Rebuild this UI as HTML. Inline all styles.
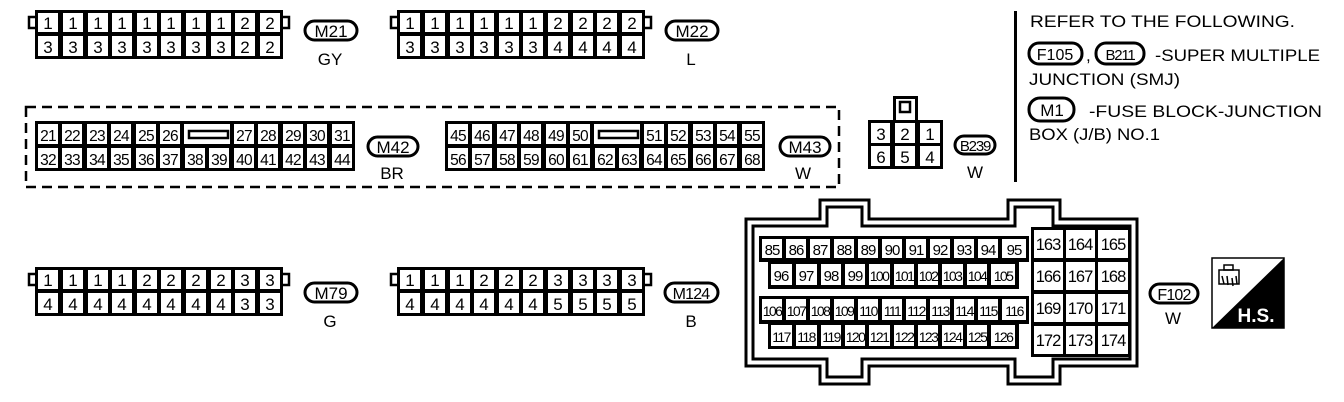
<!DOCTYPE html>
<html><head><meta charset="utf-8"><style>
html,body{margin:0;padding:0;background:#fff;}
svg{display:block;}
text{font-family:"Liberation Sans",sans-serif;fill:#000;}
</style></head><body>
<svg width="1344" height="402" viewBox="0 0 1344 402" xmlns="http://www.w3.org/2000/svg">
<defs>
<g id="c10">
  <rect x="29" y="17" width="8" height="11" fill="#fff" stroke="#000" stroke-width="2.5"/>
  <rect x="281" y="17" width="8" height="11" fill="#fff" stroke="#000" stroke-width="2.5"/>
  <rect x="35" y="10" width="248" height="49" fill="#000"/>
  <g fill="#fff">
  <rect x="38" y="13" width="20" height="19"/><rect x="63" y="13" width="20" height="19"/><rect x="88" y="13" width="20" height="19"/><rect x="112" y="13" width="20" height="19"/><rect x="137" y="13" width="20" height="19"/><rect x="161" y="13" width="20" height="19"/><rect x="186" y="13" width="20" height="19"/><rect x="211" y="13" width="20" height="19"/><rect x="235" y="13" width="20" height="19"/><rect x="260" y="13" width="20" height="19"/>
  <rect x="38" y="36" width="20" height="20"/><rect x="63" y="36" width="20" height="20"/><rect x="88" y="36" width="20" height="20"/><rect x="112" y="36" width="20" height="20"/><rect x="137" y="36" width="20" height="20"/><rect x="161" y="36" width="20" height="20"/><rect x="186" y="36" width="20" height="20"/><rect x="211" y="36" width="20" height="20"/><rect x="235" y="36" width="20" height="20"/><rect x="260" y="36" width="20" height="20"/>
  </g>
</g>
</defs>

<!-- M21 -->
<use href="#c10"/>
<g font-size="17" text-anchor="middle">
<text x="48" y="29">1</text><text x="73" y="29">1</text><text x="98" y="29">1</text><text x="122" y="29">1</text><text x="147" y="29">1</text><text x="171" y="29">1</text><text x="196" y="29">1</text><text x="221" y="29">1</text><text x="245" y="29">2</text><text x="270" y="29">2</text>
<text x="48" y="53">3</text><text x="73" y="53">3</text><text x="98" y="53">3</text><text x="122" y="53">3</text><text x="147" y="53">3</text><text x="171" y="53">3</text><text x="196" y="53">3</text><text x="221" y="53">3</text><text x="245" y="53">2</text><text x="270" y="53">2</text>
</g>
<rect x="305" y="21" width="52" height="19" rx="9.5" fill="none" stroke="#000" stroke-width="3"/>
<text x="331" y="37" font-size="17" text-anchor="middle">M21</text>
<text x="330" y="65" font-size="17" text-anchor="middle">GY</text>

<!-- M22 -->
<use href="#c10" x="362"/>
<g font-size="17" text-anchor="middle">
<text x="410" y="29">1</text><text x="435" y="29">1</text><text x="460" y="29">1</text><text x="484" y="29">1</text><text x="509" y="29">1</text><text x="533" y="29">1</text><text x="558" y="29">2</text><text x="583" y="29">2</text><text x="607" y="29">2</text><text x="632" y="29">2</text>
<text x="410" y="53">3</text><text x="435" y="53">3</text><text x="460" y="53">3</text><text x="484" y="53">3</text><text x="509" y="53">3</text><text x="533" y="53">3</text><text x="558" y="53">4</text><text x="583" y="53">4</text><text x="607" y="53">4</text><text x="632" y="53">4</text>
</g>
<rect x="666" y="21" width="52" height="19" rx="9.5" fill="none" stroke="#000" stroke-width="3"/>
<text x="692" y="37" font-size="17" text-anchor="middle">M22</text>
<text x="691" y="65" font-size="17" text-anchor="middle">L</text>

<!-- dashed box -->
<rect x="26" y="107" width="813" height="80" fill="none" stroke="#000" stroke-width="2.5" stroke-dasharray="10,6"/>

<!-- M42 -->
<rect x="35" y="121" width="320" height="50" fill="#000"/>
<g fill="#fff">
<rect x="38" y="124" width="20" height="20"/><rect x="62" y="124" width="20" height="20"/><rect x="87" y="124" width="20" height="20"/><rect x="111" y="124" width="20" height="20"/><rect x="136" y="124" width="20" height="20"/><rect x="160" y="124" width="20" height="20"/>
<rect x="184" y="124" width="46" height="20"/>
<rect x="234" y="124" width="20" height="20"/><rect x="258" y="124" width="20" height="20"/><rect x="283" y="124" width="20" height="20"/><rect x="307" y="124" width="20" height="20"/><rect x="332" y="124" width="20" height="20"/>
<rect x="38" y="148" width="20" height="20"/><rect x="62" y="148" width="20" height="20"/><rect x="87" y="148" width="20" height="20"/><rect x="111" y="148" width="20" height="20"/><rect x="136" y="148" width="20" height="20"/><rect x="160" y="148" width="20" height="20"/><rect x="185" y="148" width="20" height="20"/><rect x="209" y="148" width="20" height="20"/><rect x="234" y="148" width="20" height="20"/><rect x="258" y="148" width="20" height="20"/><rect x="283" y="148" width="20" height="20"/><rect x="307" y="148" width="20" height="20"/><rect x="332" y="148" width="20" height="20"/>
</g>
<rect x="189" y="131" width="39" height="7" fill="none" stroke="#000" stroke-width="2.5"/>
<g font-size="15.5" text-anchor="middle" letter-spacing="-0.8">
<text x="48" y="141">21</text><text x="72" y="141">22</text><text x="97" y="141">23</text><text x="121" y="141">24</text><text x="146" y="141">25</text><text x="170" y="141">26</text><text x="244" y="141">27</text><text x="268" y="141">28</text><text x="293" y="141">29</text><text x="317" y="141">30</text><text x="342" y="141">31</text>
<text x="48" y="165">32</text><text x="72" y="165">33</text><text x="97" y="165">34</text><text x="121" y="165">35</text><text x="146" y="165">36</text><text x="170" y="165">37</text><text x="195" y="165">38</text><text x="219" y="165">39</text><text x="244" y="165">40</text><text x="268" y="165">41</text><text x="293" y="165">42</text><text x="317" y="165">43</text><text x="342" y="165">44</text>
</g>
<rect x="368" y="137" width="50" height="19" rx="9.5" fill="none" stroke="#000" stroke-width="3"/>
<text x="393" y="153" font-size="17" text-anchor="middle">M42</text>
<text x="392" y="179" font-size="17" text-anchor="middle">BR</text>

<!-- M43 -->
<g transform="translate(410,0)">
<rect x="35" y="121" width="320" height="50" fill="#000"/>
<g fill="#fff">
<rect x="38" y="124" width="20" height="20"/><rect x="62" y="124" width="20" height="20"/><rect x="87" y="124" width="20" height="20"/><rect x="111" y="124" width="20" height="20"/><rect x="136" y="124" width="20" height="20"/><rect x="160" y="124" width="20" height="20"/>
<rect x="184" y="124" width="46" height="20"/>
<rect x="234" y="124" width="20" height="20"/><rect x="258" y="124" width="20" height="20"/><rect x="283" y="124" width="20" height="20"/><rect x="307" y="124" width="20" height="20"/><rect x="332" y="124" width="20" height="20"/>
<rect x="38" y="148" width="20" height="20"/><rect x="62" y="148" width="20" height="20"/><rect x="87" y="148" width="20" height="20"/><rect x="111" y="148" width="20" height="20"/><rect x="136" y="148" width="20" height="20"/><rect x="160" y="148" width="20" height="20"/><rect x="185" y="148" width="20" height="20"/><rect x="209" y="148" width="20" height="20"/><rect x="234" y="148" width="20" height="20"/><rect x="258" y="148" width="20" height="20"/><rect x="283" y="148" width="20" height="20"/><rect x="307" y="148" width="20" height="20"/><rect x="332" y="148" width="20" height="20"/>
</g>
<rect x="189" y="131" width="39" height="7" fill="none" stroke="#000" stroke-width="2.5"/>
<g font-size="15.5" text-anchor="middle" letter-spacing="-0.8">
<text x="48" y="141">45</text><text x="72" y="141">46</text><text x="97" y="141">47</text><text x="121" y="141">48</text><text x="146" y="141">49</text><text x="170" y="141">50</text><text x="244" y="141">51</text><text x="268" y="141">52</text><text x="293" y="141">53</text><text x="317" y="141">54</text><text x="342" y="141">55</text>
<text x="48" y="165">56</text><text x="72" y="165">57</text><text x="97" y="165">58</text><text x="121" y="165">59</text><text x="146" y="165">60</text><text x="170" y="165">61</text><text x="195" y="165">62</text><text x="219" y="165">63</text><text x="244" y="165">64</text><text x="268" y="165">65</text><text x="293" y="165">66</text><text x="317" y="165">67</text><text x="342" y="165">68</text>
</g>
</g>
<rect x="780" y="137" width="50" height="19" rx="9.5" fill="none" stroke="#000" stroke-width="3"/>
<text x="805" y="153" font-size="17" text-anchor="middle">M43</text>
<text x="803" y="179" font-size="17" text-anchor="middle">W</text>

<!-- B239 -->
<rect x="893" y="96" width="25" height="27" fill="#000"/>
<rect x="896" y="99" width="19" height="22" fill="#fff"/>
<rect x="900" y="102" width="10" height="10" fill="none" stroke="#000" stroke-width="2.5"/>
<rect x="868" y="120" width="75" height="49" fill="#000"/>
<g fill="#fff">
<rect x="871" y="123" width="19" height="20"/><rect x="895" y="123" width="20" height="20"/><rect x="920" y="123" width="20" height="20"/>
<rect x="871" y="146" width="19" height="20"/><rect x="895" y="146" width="20" height="20"/><rect x="920" y="146" width="20" height="20"/>
</g>
<g font-size="17" text-anchor="middle">
<text x="881" y="140">3</text><text x="905" y="140">2</text><text x="930" y="140">1</text>
<text x="881" y="163">6</text><text x="905" y="163">5</text><text x="930" y="163">4</text>
</g>
<rect x="955" y="136" width="40" height="18" rx="9" fill="none" stroke="#000" stroke-width="3"/>
<text x="975" y="151" font-size="15" text-anchor="middle" letter-spacing="-1.2">B239</text>
<text x="975" y="178" font-size="17" text-anchor="middle">W</text>

<!-- notes -->
<rect x="1014" y="11" width="3" height="171" fill="#000"/>
<g font-size="17">
<text x="1030" y="27" textLength="265" lengthAdjust="spacingAndGlyphs">REFER TO THE FOLLOWING.</text>
<rect x="1029" y="43" width="53" height="21" rx="10" fill="none" stroke="#000" stroke-width="3"/>
<text x="1055" y="60" font-size="16" text-anchor="middle">F105</text>
<text x="1086" y="61">,</text>
<rect x="1096" y="43" width="48" height="21" rx="10" fill="none" stroke="#000" stroke-width="3"/>
<text x="1120" y="60" font-size="15" text-anchor="middle" letter-spacing="-1.2">B211</text>
<text x="1155" y="61" textLength="165" lengthAdjust="spacingAndGlyphs">-SUPER MULTIPLE</text>
<text x="1029" y="85" textLength="151" lengthAdjust="spacingAndGlyphs">JUNCTION (SMJ)</text>
<rect x="1029" y="98" width="45" height="23" rx="11" fill="none" stroke="#000" stroke-width="3"/>
<text x="1052" y="116" text-anchor="middle">M1</text>
<text x="1089" y="117" textLength="233" lengthAdjust="spacingAndGlyphs">-FUSE BLOCK-JUNCTION</text>
<text x="1029" y="140" textLength="131" lengthAdjust="spacingAndGlyphs">BOX (J/B) NO.1</text>
</g>

<!-- M79 -->
<use href="#c10" y="257"/>
<g font-size="17" text-anchor="middle">
<text x="48" y="286">1</text><text x="73" y="286">1</text><text x="98" y="286">1</text><text x="122" y="286">1</text><text x="147" y="286">2</text><text x="171" y="286">2</text><text x="196" y="286">2</text><text x="221" y="286">2</text><text x="245" y="286">3</text><text x="270" y="286">3</text>
<text x="48" y="310">4</text><text x="73" y="310">4</text><text x="98" y="310">4</text><text x="122" y="310">4</text><text x="147" y="310">4</text><text x="171" y="310">4</text><text x="196" y="310">4</text><text x="221" y="310">4</text><text x="245" y="310">3</text><text x="270" y="310">3</text>
</g>
<rect x="305" y="283" width="52" height="19" rx="9.5" fill="none" stroke="#000" stroke-width="3"/>
<text x="331" y="299" font-size="17" text-anchor="middle">M79</text>
<text x="330" y="327" font-size="17" text-anchor="middle">G</text>

<!-- M124 -->
<use href="#c10" x="362" y="257"/>
<g font-size="17" text-anchor="middle">
<text x="410" y="286">1</text><text x="435" y="286">1</text><text x="460" y="286">1</text><text x="484" y="286">2</text><text x="509" y="286">2</text><text x="533" y="286">2</text><text x="558" y="286">3</text><text x="583" y="286">3</text><text x="607" y="286">3</text><text x="632" y="286">3</text>
<text x="410" y="310">4</text><text x="435" y="310">4</text><text x="460" y="310">4</text><text x="484" y="310">4</text><text x="509" y="310">4</text><text x="533" y="310">4</text><text x="558" y="310">5</text><text x="583" y="310">5</text><text x="607" y="310">5</text><text x="632" y="310">5</text>
</g>
<rect x="665" y="283" width="53" height="19" rx="9.5" fill="none" stroke="#000" stroke-width="3"/>
<text x="691" y="299" font-size="16" text-anchor="middle" letter-spacing="-0.8">M124</text>
<text x="691" y="327" font-size="17" text-anchor="middle">B</text>

<!-- F102 big connector -->
<path d="M746,219 H820 V200 H869 V219 H1008 V200 H1060 V219 H1137 V366 H1060 V384 H1008 V366 H869 V384 H820 V366 H746 Z" fill="none" stroke="#000" stroke-width="3"/>
<path d="M753,226 H827 V207 H862 V226 H1015 V207 H1053 V226 H1130 V359 H1053 V377 H1015 V359 H862 V377 H827 V359 H753 Z" fill="none" stroke="#000" stroke-width="3"/>
<g fill="#000">
<rect x="759" y="236" width="270" height="26"/>
<rect x="768" y="258" width="251" height="31"/>
<rect x="759" y="296" width="270" height="28"/>
<rect x="768" y="320" width="251" height="29"/>
<rect x="1031" y="227" width="100" height="130"/>
</g>
<g fill="#fff">
<rect x="762" y="239" width="20" height="19"/><rect x="786" y="239" width="20" height="19"/><rect x="810" y="239" width="20" height="19"/><rect x="834" y="239" width="20" height="19"/><rect x="858" y="239" width="20" height="19"/><rect x="882" y="239" width="20" height="19"/><rect x="906" y="239" width="20" height="19"/><rect x="930" y="239" width="20" height="19"/><rect x="954" y="239" width="20" height="19"/><rect x="978" y="239" width="20" height="19"/><rect x="1002" y="239" width="24" height="19"/>
<rect x="771" y="264" width="21" height="21"/><rect x="796" y="264" width="21" height="21"/><rect x="821" y="264" width="20" height="21"/><rect x="845" y="264" width="20" height="21"/><rect x="869" y="264" width="21" height="21"/><rect x="894" y="264" width="20" height="21"/><rect x="918" y="264" width="20" height="21"/><rect x="942" y="264" width="21" height="21"/><rect x="967" y="264" width="20" height="21"/><rect x="991" y="264" width="24" height="21"/>
<rect x="762" y="299" width="20" height="21"/><rect x="786" y="299" width="20" height="21"/><rect x="810" y="299" width="20" height="21"/><rect x="834" y="299" width="20" height="21"/><rect x="858" y="299" width="20" height="21"/><rect x="882" y="299" width="20" height="21"/><rect x="906" y="299" width="20" height="21"/><rect x="930" y="299" width="20" height="21"/><rect x="954" y="299" width="20" height="21"/><rect x="978" y="299" width="20" height="21"/><rect x="1002" y="299" width="24" height="21"/>
<rect x="771" y="325" width="21" height="21"/><rect x="796" y="325" width="21" height="21"/><rect x="821" y="325" width="20" height="21"/><rect x="845" y="325" width="20" height="21"/><rect x="869" y="325" width="21" height="21"/><rect x="894" y="325" width="20" height="21"/><rect x="918" y="325" width="20" height="21"/><rect x="942" y="325" width="21" height="21"/><rect x="967" y="325" width="20" height="21"/><rect x="991" y="325" width="24" height="21"/>
<rect x="1034" y="230" width="29" height="28"/><rect x="1066" y="230" width="29" height="28"/><rect x="1098" y="230" width="30" height="28"/>
<rect x="1034" y="262" width="29" height="28"/><rect x="1066" y="262" width="29" height="28"/><rect x="1098" y="262" width="30" height="28"/>
<rect x="1034" y="294" width="29" height="28"/><rect x="1066" y="294" width="29" height="28"/><rect x="1098" y="294" width="30" height="28"/>
<rect x="1034" y="326" width="29" height="28"/><rect x="1066" y="326" width="29" height="28"/><rect x="1098" y="326" width="30" height="28"/>
</g>
<g font-size="15" text-anchor="middle" letter-spacing="-1">
<text x="772" y="255">85</text><text x="796" y="255">86</text><text x="820" y="255">87</text><text x="844" y="255">88</text><text x="868" y="255">89</text><text x="892" y="255">90</text><text x="916" y="255">91</text><text x="940" y="255">92</text><text x="964" y="255">93</text><text x="988" y="255">94</text><text x="1014" y="255">95</text>
<text x="781" y="281">96</text><text x="806" y="281">97</text><text x="831" y="281">98</text><text x="855" y="281">99</text>
</g>
<g font-size="14" text-anchor="middle" letter-spacing="-1.6">
<text x="879" y="281">100</text><text x="904" y="281">101</text><text x="928" y="281">102</text><text x="952" y="281">103</text><text x="977" y="281">104</text><text x="1003" y="281">105</text>
<text x="772" y="316">106</text><text x="796" y="316">107</text><text x="820" y="316">108</text><text x="844" y="316">109</text><text x="868" y="316">110</text><text x="892" y="316">111</text><text x="916" y="316">112</text><text x="940" y="316">113</text><text x="964" y="316">114</text><text x="988" y="316">115</text><text x="1014" y="316">116</text>
<text x="781" y="342">117</text><text x="806" y="342">118</text><text x="831" y="342">119</text><text x="855" y="342">120</text><text x="879" y="342">121</text><text x="904" y="342">122</text><text x="928" y="342">123</text><text x="952" y="342">124</text><text x="977" y="342">125</text><text x="1003" y="342">126</text>
</g>
<g font-size="16.5" text-anchor="middle" letter-spacing="-1">
<text x="1048" y="250">163</text><text x="1080" y="250">164</text><text x="1113" y="250">165</text>
<text x="1048" y="282">166</text><text x="1080" y="282">167</text><text x="1113" y="282">168</text>
<text x="1048" y="314">169</text><text x="1080" y="314">170</text><text x="1113" y="314">171</text>
<text x="1048" y="346">172</text><text x="1080" y="346">173</text><text x="1113" y="346">174</text>
</g>
<rect x="1150" y="284" width="48" height="19" rx="9.5" fill="none" stroke="#000" stroke-width="3"/>
<text x="1174" y="300" font-size="16" text-anchor="middle" letter-spacing="-0.8">F102</text>
<text x="1173" y="324" font-size="17" text-anchor="middle">W</text>

<!-- H.S. icon -->
<rect x="1212" y="258" width="72" height="70" fill="#fff" stroke="#000" stroke-width="1.5"/>
<polygon points="1284,258 1284,328 1212,328" fill="#000"/>
<g fill="none" stroke="#000" stroke-width="1.5">
<rect x="1219" y="270" width="20" height="14"/>
<rect x="1224" y="265" width="9" height="5"/>
<path d="M1222,276 l2,8 M1227,276 l1,9 M1232,278 l1,8 M1236,276 l1,8"/>
</g>
<text x="1256" y="322" font-size="19" font-weight="bold" style="fill:#fff" text-anchor="middle">H.S.</text>
</svg>
</body></html>
